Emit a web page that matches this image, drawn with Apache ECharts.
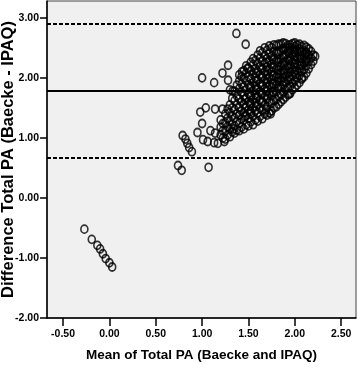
<!DOCTYPE html>
<html>
<head>
<meta charset="utf-8">
<script src="https://cdn.jsdelivr.net/npm/echarts@6/dist/echarts.min.js"></script>
<style>
  html, body { margin: 0; padding: 0; background: #fff; }
  #chart { width: 358px; height: 368px; }
</style>
</head>
<body>
<div id="chart"></div>
<script>
  // reference lines: mean difference and limits of agreement
  const meanDiff = 1.79
  const upperLimit = 2.90
  const lowerLimit = 0.67

  const xTicks = [-0.5, 0, 0.5, 1, 1.5, 2, 2.5]
  const yTicks = [-2, -1, 0, 1, 2, 3]

  // isolated points (mean, difference)
  const lowPoints = [
    [-0.27, -0.52], [-0.19, -0.69], [-0.13, -0.79], [-0.10, -0.85],
    [-0.07, -0.93], [-0.04, -1.01], [0.00, -1.08], [0.03, -1.15]
  ]
  const midPoints = [
    [0.74, 0.54], [0.78, 0.46], [1.07, 0.51],
    [0.79, 1.04], [0.82, 0.98], [0.84, 0.91], [0.86, 0.84], [0.89, 0.77],
    [0.95, 1.09], [0.98, 1.43], [1.04, 1.50], [1.00, 1.24], [1.01, 0.97],
    [1.06, 0.94], [1.13, 0.92], [1.17, 0.91], [1.24, 0.94], [1.09, 1.12],
    [1.14, 1.08], [1.34, 1.15], [1.14, 1.48], [1.22, 1.48], [1.37, 2.74],
    [1.47, 2.56], [1.00, 2.00], [1.13, 1.92], [1.28, 2.21], [1.22, 2.08],
    [1.28, 1.96], [1.43, 2.10], [1.49, 2.16], [1.74, 1.40], [1.69, 1.47],
    [1.94, 1.73], [2.08, 2.00], [2.22, 2.36], [1.30, 1.80], [1.33, 1.78]
  ]

  // dense cluster, read column by column
  const clusterX = [
    1.20, 1.225, 1.25, 1.275, 1.30, 1.325, 1.35, 1.375, 1.40, 1.425,
    1.45, 1.475, 1.50, 1.525, 1.55, 1.575, 1.60, 1.625, 1.65, 1.675,
    1.70, 1.725, 1.75, 1.775, 1.80, 1.825, 1.85, 1.875, 1.90, 1.925,
    1.95, 1.975, 2.00, 2.025, 2.05, 2.075, 2.10, 2.125, 2.15, 2.175, 2.20
  ]
  const clusterY = [
    [1.05, 1.18, 1.30],
    [1.00, 1.12, 1.24],
    [0.98, 1.12, 1.25, 1.40],
    [1.05, 1.19, 1.33, 1.48],
    [1.02, 1.15, 1.28, 1.42, 1.55],
    [1.10, 1.22, 1.36, 1.50, 1.66],
    [1.08, 1.20, 1.33, 1.47, 1.62, 1.78],
    [1.13, 1.27, 1.40, 1.55, 1.70, 1.88],
    [1.12, 1.25, 1.38, 1.50, 1.65, 1.82, 1.95, 2.05],
    [1.18, 1.32, 1.45, 1.60, 1.76, 1.90, 2.02],
    [1.15, 1.30, 1.42, 1.56, 1.70, 1.85, 2.00, 2.12],
    [1.22, 1.37, 1.52, 1.66, 1.80, 1.95, 2.08, 2.20],
    [1.20, 1.33, 1.47, 1.60, 1.74, 1.88, 2.02, 2.16],
    [1.27, 1.40, 1.54, 1.69, 1.83, 1.98, 2.12, 2.26],
    [1.22, 1.36, 1.50, 1.64, 1.78, 1.92, 2.06, 2.22, 2.32],
    [1.30, 1.45, 1.58, 1.72, 1.86, 2.00, 2.15, 2.29],
    [1.28, 1.42, 1.55, 1.68, 1.82, 1.96, 2.10, 2.24, 2.38],
    [1.36, 1.50, 1.63, 1.77, 1.91, 2.05, 2.19, 2.33, 2.45],
    [1.32, 1.46, 1.60, 1.73, 1.87, 2.00, 2.14, 2.28, 2.42],
    [1.40, 1.55, 1.69, 1.82, 1.96, 2.10, 2.24, 2.37, 2.50],
    [1.38, 1.52, 1.65, 1.78, 1.92, 2.05, 2.18, 2.32, 2.46],
    [1.42, 1.60, 1.74, 1.88, 2.01, 2.14, 2.28, 2.41, 2.53],
    [1.45, 1.58, 1.70, 1.84, 1.97, 2.10, 2.23, 2.36, 2.50],
    [1.50, 1.62, 1.76, 1.90, 2.04, 2.17, 2.30, 2.44, 2.55],
    [1.52, 1.64, 1.77, 1.90, 2.02, 2.15, 2.28, 2.42, 2.54],
    [1.56, 1.69, 1.82, 1.94, 2.06, 2.19, 2.31, 2.44, 2.56],
    [1.60, 1.72, 1.84, 1.96, 2.08, 2.20, 2.32, 2.45, 2.56],
    [1.64, 1.76, 1.88, 2.00, 2.12, 2.25, 2.37, 2.49, 2.58],
    [1.68, 1.80, 1.92, 2.03, 2.15, 2.27, 2.38, 2.50, 2.57],
    [1.72, 1.84, 1.96, 2.08, 2.20, 2.31, 2.43, 2.54],
    [1.74, 1.86, 1.98, 2.10, 2.22, 2.34, 2.45, 2.55],
    [1.80, 1.91, 2.03, 2.14, 2.26, 2.38, 2.49, 2.57],
    [1.84, 1.95, 2.06, 2.18, 2.30, 2.42, 2.52, 2.58],
    [1.88, 2.00, 2.12, 2.23, 2.34, 2.45, 2.55],
    [1.92, 2.04, 2.15, 2.27, 2.38, 2.48, 2.56],
    [1.98, 2.10, 2.21, 2.32, 2.43, 2.52],
    [2.02, 2.14, 2.25, 2.35, 2.45, 2.54],
    [2.08, 2.20, 2.31, 2.42, 2.51],
    [2.15, 2.27, 2.38, 2.48],
    [2.22, 2.33, 2.44],
    [2.28, 2.38]
  ]
  // extra points in the solid-black core of the cluster
  const coreX = [1.46, 1.52, 1.58, 1.64, 1.70, 1.76, 1.82, 1.88, 1.94, 2.00, 2.06, 2.12]
  const coreY = [
    [1.36, 1.50, 1.64],
    [1.44, 1.58, 1.72, 1.86],
    [1.52, 1.66, 1.80, 1.94, 2.08],
    [1.60, 1.74, 1.88, 2.02, 2.16],
    [1.70, 1.84, 1.98, 2.12, 2.26],
    [1.76, 1.90, 2.04, 2.18, 2.32],
    [1.86, 2.00, 2.13, 2.26, 2.40],
    [1.94, 2.08, 2.21, 2.34, 2.47],
    [2.02, 2.16, 2.29, 2.41, 2.50],
    [2.10, 2.24, 2.36, 2.47],
    [2.20, 2.32, 2.44],
    [2.28, 2.40]
  ]

  function columnsToPoints(xs, ys) {
    let pts = []
    for (let i = 0; i < xs.length; i++) {
      for (let y of ys[i]) {
        pts.push([xs[i], y])
      }
    }
    return pts
  }
  const allPoints = lowPoints.concat(
    midPoints,
    columnsToPoints(clusterX, clusterY),
    columnsToPoints(coreX, coreY)
  )

  const tickFont = {
    color: '#000',
    fontSize: 10.5,
    fontWeight: 'bold',
    fontFamily: 'Liberation Sans, sans-serif'
  }

  let mychart = echarts.init(document.getElementById('chart'))
  mychart.setOption({
    animation: false,
    grid: {
      left: 47,
      right: 2,
      top: 1,
      bottom: 50,
      outerBoundsMode: 'none',
      containLabel: false,
      show: true,
      backgroundColor: '#f0f0f0',
      borderColor: '#444',
      borderWidth: 1
    },
    xAxis: {
      type: 'value',
      min: -0.673,
      max: 2.66,
      name: 'Mean of Total PA (Baecke and IPAQ)',
      nameLocation: 'middle',
      nameGap: 30,
      nameMoveOverlap: false,
      nameTextStyle: {
        color: '#000',
        fontSize: 13.5,
        fontWeight: 'bold',
        fontFamily: 'Liberation Sans, sans-serif'
      },
      splitLine: { show: false },
      axisLine: { show: true, onZero: false, lineStyle: { color: '#000', width: 1.5 } },
      axisTick: { show: true, length: 8, customValues: xTicks, lineStyle: { color: '#000', width: 1.5 } },
      axisLabel: {
        ...tickFont,
        margin: 11,
        customValues: xTicks,
        formatter: v => v.toFixed(2)
      }
    },
    yAxis: {
      type: 'value',
      min: -2,
      max: 3.28,
      name: 'Difference Total PA (Baecke - IPAQ)',
      nameLocation: 'middle',
      nameGap: 30,
      nameMoveOverlap: false,
      nameTextStyle: {
        color: '#000',
        fontSize: 16.5,
        fontWeight: 'bold',
        fontFamily: 'Liberation Sans, sans-serif'
      },
      splitLine: { show: false },
      axisLine: { show: true, onZero: false, lineStyle: { color: '#000', width: 1.5 } },
      axisTick: { show: true, length: 7, customValues: yTicks, lineStyle: { color: '#000', width: 1.5 } },
      axisLabel: {
        ...tickFont,
        margin: 8,
        customValues: yTicks,
        formatter: v => v.toFixed(2)
      }
    },
    series: [
      {
        type: 'scatter',
        data: allPoints,
        symbol: 'circle',
        symbolSize: [7, 8],
        itemStyle: { color: 'rgba(0,0,0,0)', borderColor: '#000', borderWidth: 1.7 },
        markLine: {
          silent: true,
          symbol: 'none',
          label: { show: false },
          data: [
            { yAxis: upperLimit, lineStyle: { type: [4, 2], color: '#000', width: 2 } },
            { yAxis: meanDiff, lineStyle: { type: 'solid', color: '#000', width: 2 } },
            { yAxis: lowerLimit, lineStyle: { type: [4, 2], color: '#000', width: 2 } }
          ]
        }
      }
    ]
  })
</script>
</body>
</html>
